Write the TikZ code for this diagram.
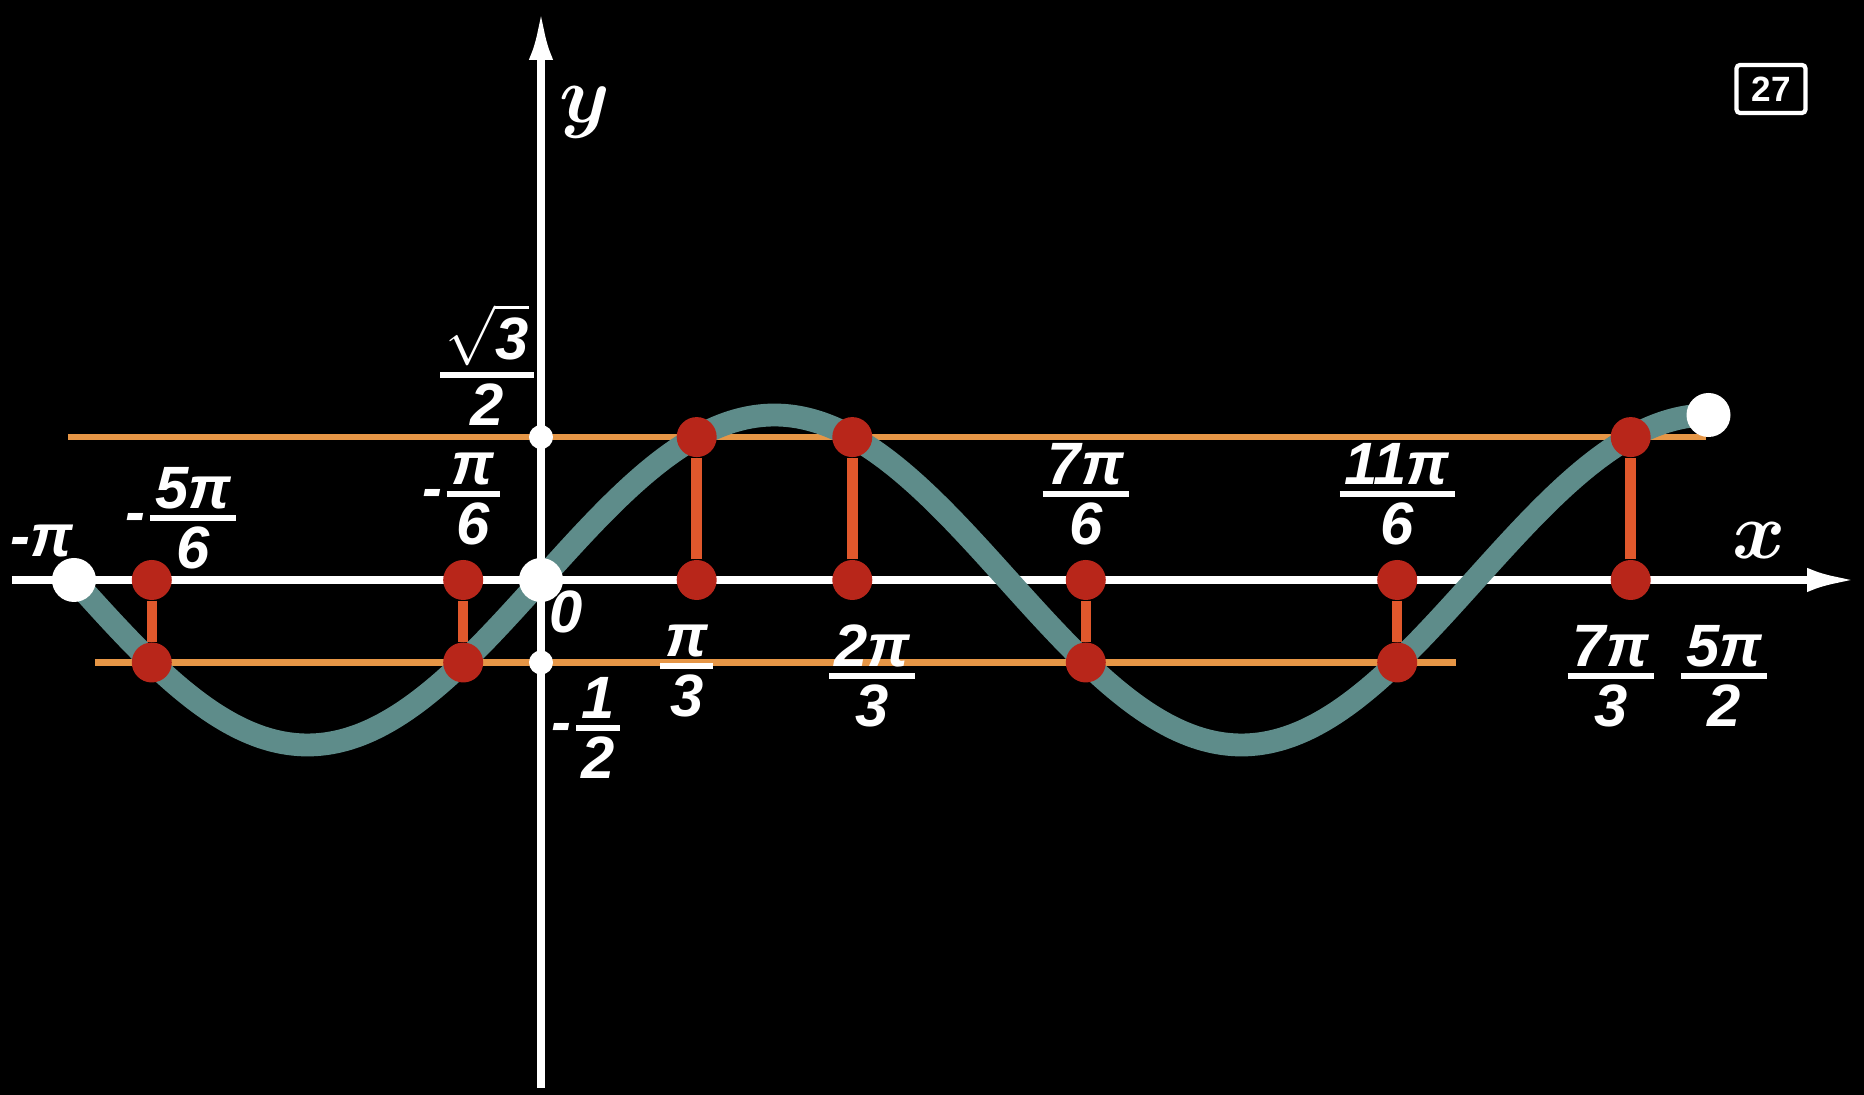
\documentclass[tikz,border=0pt]{standalone}
\usepackage{fix-cm}
\usepackage{amsmath}
\usepackage{fontspec}
\setmainfont{Liberation Sans}
\usetikzlibrary{positioning, arrows.meta}

\definecolor{wavecol}{HTML}{5E8C8A}
\definecolor{linecol}{HTML}{E69646}
\definecolor{segcol}{HTML}{E0582C}
\definecolor{dotcol}{HTML}{B8261A}

% fraction with a thick bar
\newcommand\fr[2]{$\genfrac{}{}{1.7pt}{1}{\mbox{\kern1.5pt#1\kern1.5pt}}{\mbox{#2}}$}

\begin{document}
\begin{tikzpicture}[
    % Define the style for the axes
    axis/.style={
        draw,
        white,
        line width=2.3pt,
        -{Latex[length=5mm, width=2.4mm]}
    },
    % Define the style for the level lines
    level/.style={
        draw,
        linecol,
        line width=1.8pt
    },
    % Define the style for the sine curve
    wave/.style={
        draw,
        wavecol,
        line width=6.5pt,
        line cap=round
    },
    % Define the style for the red segments
    seg/.style={
        draw,
        segcol,
        line width=3pt
    },
    % Define the style for the dots
    reddot/.style={circle, fill=dotcol, inner sep=0pt, minimum size=4mm},
    bigdot/.style={circle, fill=white, inner sep=0pt, minimum size=4.4mm},
    smalldot/.style={circle, fill=white, inner sep=0pt, minimum size=2.4mm},
    % Define the style for the labels
    lbl/.style={
        text=white,
        inner sep=1pt,
        font=\fontsize{17}{20}\selectfont\bfseries\itshape
    },
    axlbl/.style={
        text=white,
        inner sep=1pt,
        font=\fontsize{23}{26}\selectfont
    }
]

    % Background and frame
    \fill [black] (-5.41,-5.15) rectangle (13.23,5.80);
    \useasboundingbox (-5.41,-5.15) rectangle (13.23,5.80);

    % Axis end points
    \coordinate (xstart) at (-5.29,0);
    \coordinate (xend) at (13.16,0);
    \coordinate (ystart) at (0,-5.08);
    \coordinate (yend) at (0,5.70);

    % Level line end points
    \coordinate (upl) at (-4.73,1.429);
    \coordinate (upr) at (11.65,1.429);
    \coordinate (lowl) at (-4.46,-0.825);
    \coordinate (lowr) at (9.15,-0.825);

    % Draw the axes and the level lines
    \path [axis] (xstart) -- (xend);
    \path [axis] (ystart) -- (yend);
    \path [level] (upl) -- (upr);
    \path [level] (lowl) -- (lowr);

    % Draw the sine curve
    \path [wave] plot [domain=-1:2.5, samples=150, smooth] (\x*4.67, {1.65*sin(180*\x)});

    % Place the red dots (on the x axis and on the curve)
    \node [reddot] (ax1) at (-3.892,0) {};
    \node [reddot] (cv1) at (-3.892,-0.825) {};
    \node [reddot] (ax2) at (-0.778,0) {};
    \node [reddot] (cv2) at (-0.778,-0.825) {};
    \node [reddot] (ax3) at (1.557,0) {};
    \node [reddot] (cv3) at (1.557,1.429) {};
    \node [reddot] (ax4) at (3.113,0) {};
    \node [reddot] (cv4) at (3.113,1.429) {};
    \node [reddot] (ax5) at (5.448,0) {};
    \node [reddot] (cv5) at (5.448,-0.825) {};
    \node [reddot] (ax6) at (8.562,0) {};
    \node [reddot] (cv6) at (8.562,-0.825) {};
    \node [reddot] (ax7) at (10.897,0) {};
    \node [reddot] (cv7) at (10.897,1.429) {};

    % Draw the red segments
    \path [seg] (ax1) -- (cv1);
    \path [seg] (ax2) -- (cv2);
    \path [seg] (ax3) -- (cv3);
    \path [seg] (ax4) -- (cv4);
    \path [seg] (ax5) -- (cv5);
    \path [seg] (ax6) -- (cv6);
    \path [seg] (ax7) -- (cv7);

    % Place the white dots
    \node [bigdot] (mpi) at (-4.67,0) {};
    \node [bigdot] (orig) at (0,0) {};
    \node [bigdot] (wend) at (11.675,1.65) {};
    \node [smalldot] (ysq) at (0,1.429) {};
    \node [smalldot] (yhalf) at (0,-0.825) {};

    % Axis names and picture number
    \node [axlbl] (ylab) at (0.44,4.68) {$\boldsymbol{y}$};
    \node [axlbl] (xlab) at (12.18,0.39) {$\boldsymbol{x}$};
    \node [draw=white, line width=1.2pt, rounded corners=1pt, text=white,
           minimum width=6.9mm, minimum height=4.8mm, inner sep=1pt,
           font=\fontsize{10}{12}\selectfont\bfseries] (num) at (12.30,4.91) {27};

    % Place the labels
    \node [lbl] (lsq) at (-0.54,2.15) {\fr{$\sqrt{\mbox{3}}$}{2}};
    \node [lbl] (lhalf) at (0.47,-1.48) {-\fr{1}{2}};
    \node [lbl] (lzero) at (0.25,-0.32) {0};
    \node [lbl] (lmpi) at (-4.99,0.39) {-π};
    \node [lbl] (l1) at (-3.58,0.62) {-\fr{5π}{6}};
    \node [lbl, above=1mm of ax2] (l2) {-\fr{π}{6}};
    \node [lbl, below=2mm of ax3, xshift=-1mm] (l3) {\fr{π}{3}};
    \node [lbl, below=2mm of ax4, xshift=2mm] (l4) {\fr{2π}{3}};
    \node [lbl, above=1mm of ax5] (l5) {\fr{7π}{6}};
    \node [lbl, above=1mm of ax6] (l6) {\fr{11π}{6}};
    \node [lbl, below=2mm of ax7, xshift=-2mm] (l7) {\fr{7π}{3}};
    \node [lbl, right=1mm of l7] (l8) {\fr{5π}{2}};

\end{tikzpicture}
\end{document}
